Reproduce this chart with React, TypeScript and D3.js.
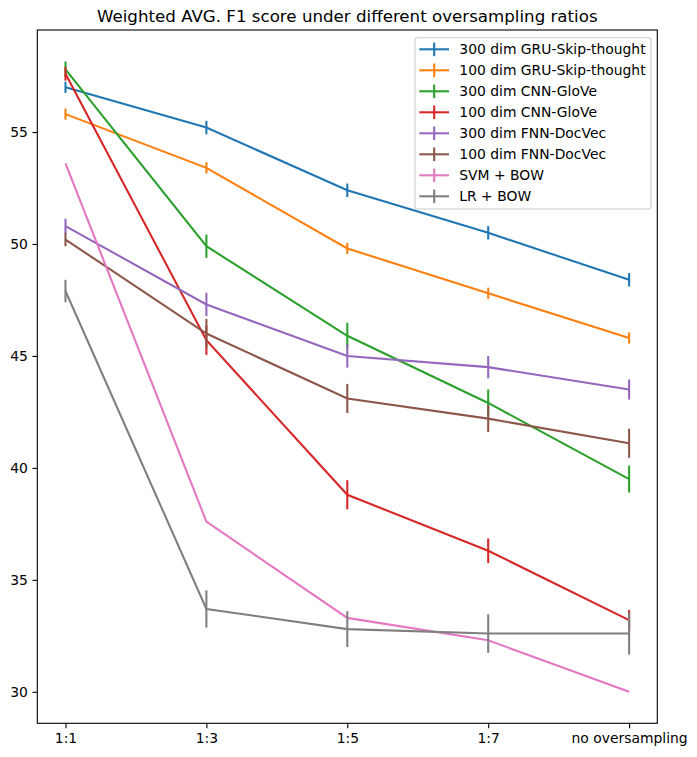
import { useEffect, useRef } from 'react';
import * as d3 from 'd3';

const ratios = ['1:1', '1:3', '1:5', '1:7', 'no oversampling'];

const seriesNames = [
  '300 dim GRU-Skip-thought',
  '100 dim GRU-Skip-thought',
  '300 dim CNN-GloVe',
  '100 dim CNN-GloVe',
  '300 dim FNN-DocVec',
  '100 dim FNN-DocVec',
  'SVM + BOW',
  'LR + BOW',
];

const gru300 = [57.0, 55.2, 52.4, 50.5, 48.4];
const gru100 = [55.8, 53.4, 49.8, 47.8, 45.8];
const cnn300 = [57.8, 49.9, 45.9, 42.9, 39.5];
const cnn100 = [57.6, 45.7, 38.8, 36.3, 33.2];
const fnn300 = [50.8, 47.3, 45.0, 44.5, 43.5];
const fnn100 = [50.2, 46.0, 43.1, 42.2, 41.1];
const svmBow = [53.6, 37.6, 33.3, 32.3, 30.0];
const lrBow = [47.9, 33.7, 32.8, 32.6, 32.6];

const gru300Err = [0.25, 0.3, 0.3, 0.3, 0.3];
const gru100Err = [0.25, 0.25, 0.25, 0.25, 0.25];
const cnn300Err = [0.35, 0.52, 0.58, 0.6, 0.6];
const cnn100Err = [0.3, 0.65, 0.65, 0.55, 0.45];
const fnn300Err = [0.33, 0.52, 0.52, 0.5, 0.45];
const fnn100Err = [0.3, 0.65, 0.65, 0.6, 0.65];
const svmBowErr = [0, 0, 0, 0, 0];
const lrBowErr = [0.5, 0.83, 0.8, 0.86, 0.94];

const seriesValues = [gru300, gru100, cnn300, cnn100, fnn300, fnn100, svmBow, lrBow];
const seriesErrors = [gru300Err, gru100Err, cnn300Err, cnn100Err, fnn300Err, fnn100Err, svmBowErr, lrBowErr];

const yTicks = [30, 35, 40, 45, 50, 55];

const colors = d3.schemeCategory10;

const Chart = () => {
  const ref = useRef<SVGSVGElement>(null);
  const width = 697;
  const height = 757;
  const marginLeft = 37.3;
  const marginRight = 39.7;
  const marginTop = 30;
  const marginBottom = 33.7;
  const font = 'DejaVu Sans, sans-serif';

  useEffect(() => {
    const svg = d3.select(ref.current);
    svg.selectAll('*').remove();

    const series = seriesNames.map((name, i) => ({
      name,
      color: colors[i],
      points: seriesValues[i].map((v, j) => ({ x: j, v, e: seriesErrors[i][j] })),
    }));

    // matplotlib style 5% margins
    const lo = d3.min(series, s => d3.min(s.points, p => p.v - p.e)) as number;
    const hi = d3.max(series, s => d3.max(s.points, p => p.v + p.e)) as number;
    const pad = (hi - lo) * 0.05;
    const n = ratios.length - 1;

    const x = d3.scaleLinear()
      .domain([-0.05 * n, n + 0.05 * n])
      .range([marginLeft, width - marginRight]);

    const y = d3.scaleLinear()
      .domain([lo - pad, hi + pad])
      .range([height - marginBottom, marginTop]);

    const line = d3.line<{ x: number; v: number }>()
      .x(d => x(d.x))
      .y(d => y(d.v));

    // Series
    series.forEach(s => {
      const g = svg.append('g');
      g.append('path')
        .attr('d', line(s.points))
        .attr('fill', 'none')
        .attr('stroke', s.color)
        .attr('stroke-width', 2.08);
      g.selectAll('line')
        .data(s.points.filter(p => p.e > 0))
        .join('line')
        .attr('x1', p => x(p.x))
        .attr('x2', p => x(p.x))
        .attr('y1', p => y(p.v - p.e))
        .attr('y2', p => y(p.v + p.e))
        .attr('stroke', s.color)
        .attr('stroke-width', 2.08);
    });

    // Axes frame
    svg.append('rect')
      .attr('x', marginLeft)
      .attr('y', marginTop)
      .attr('width', width - marginLeft - marginRight)
      .attr('height', height - marginTop - marginBottom)
      .attr('fill', 'none')
      .attr('stroke', '#000')
      .attr('stroke-width', 1.1);

    // x axis
    const xAxis = svg.append('g')
      .attr('transform', `translate(0,${height - marginBottom})`)
      .call(d3.axisBottom(x).tickValues(d3.range(ratios.length)).tickFormat(i => ratios[i as number]).tickSize(4.9).tickPadding(4.5))
      .call(g => g.select('.domain').remove());
    xAxis.selectAll('line').attr('stroke-width', 1.1);
    xAxis.selectAll('text').attr('font-size', 13.9).attr('font-family', font).attr('fill', '#000');

    // y axis
    const yAxis = svg.append('g')
      .attr('transform', `translate(${marginLeft},0)`)
      .call(d3.axisLeft(y).tickValues(yTicks).tickSize(4.9).tickPadding(4.5))
      .call(g => g.select('.domain').remove());
    yAxis.selectAll('line').attr('stroke-width', 1.1);
    yAxis.selectAll('text').attr('font-size', 13.9).attr('font-family', font).attr('fill', '#000');

    // Title
    svg.append('text')
      .attr('x', (marginLeft + width - marginRight) / 2)
      .attr('y', 22)
      .attr('text-anchor', 'middle')
      .attr('font-family', font)
      .attr('font-size', 16.67)
      .text('Weighted AVG. F1 score under different oversampling ratios');

    // Legend
    const legend = svg.append('g').attr('transform', 'translate(415,37.7)');
    legend.append('rect')
      .attr('width', 236)
      .attr('height', 171.3)
      .attr('rx', 2.5)
      .attr('fill', 'rgba(255,255,255,0.8)')
      .attr('stroke', '#cccccc')
      .attr('stroke-width', 1.1);
    const items = legend.selectAll('g.item')
      .data(series)
      .join('g')
      .attr('class', 'item')
      .attr('transform', (_, i) => `translate(0,${11.6 + i * 21})`);
    items.append('line')
      .attr('x1', 4.3).attr('x2', 34)
      .attr('stroke', d => d.color)
      .attr('stroke-width', 2.08);
    items.append('line')
      .attr('x1', 19.2).attr('x2', 19.2)
      .attr('y1', -6.8).attr('y2', 6.8)
      .attr('stroke', d => d.color)
      .attr('stroke-width', 2.08);
    items.append('text')
      .attr('x', 44.3)
      .attr('y', 5)
      .attr('font-family', font)
      .attr('font-size', 13.9)
      .text(d => d.name);
  }, []);

  return (
    <svg
      ref={ref}
      width={width}
      height={height}
      viewBox={`0 0 ${width} ${height}`}
      style={{ position: 'absolute', left: 0, top: 0, background: '#fff' }}
    />
  );
};

export default function App() {
  return <Chart />;
}
